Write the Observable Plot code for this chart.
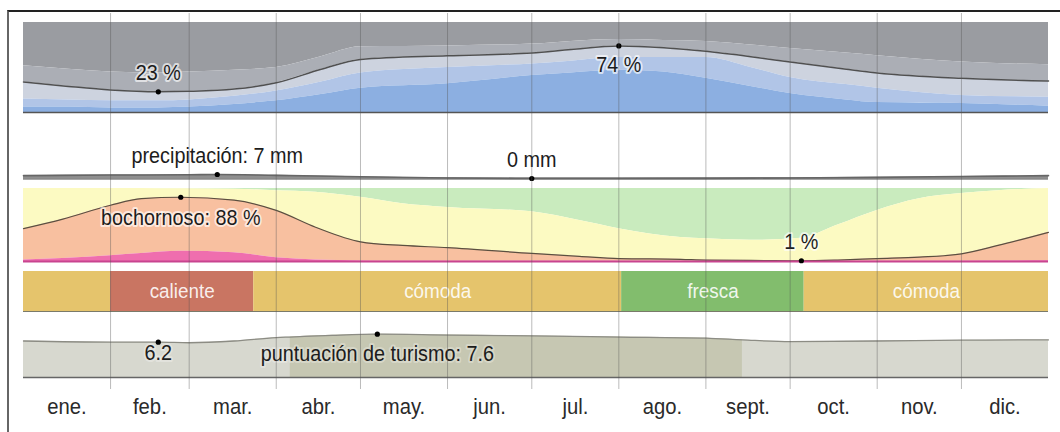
<!DOCTYPE html>
<html><head><meta charset="utf-8">
<script src="https://cdn.jsdelivr.net/npm/d3@7"></script>
<script src="https://cdn.jsdelivr.net/npm/@observablehq/plot@0.6"></script>
<style>
body{margin:0;background:#fff;font-family:"Liberation Sans",Arial,sans-serif;}
#frame{position:absolute;left:7px;top:10px;width:1051px;height:430px;border-top:2px solid #222;border-left:2px solid #666;}
#stack svg{display:block;overflow:visible}
#grid{position:absolute;left:0;top:0;pointer-events:none}
#grid svg{overflow:visible}
</style></head><body>
<div id="frame"><div id="stack"></div><div id="grid"></div></div>
<script>
// ---- axis / categories ----
const monthLabels = ["ene.","feb.","mar.","abr.","may.","jun.","jul.","ago.","sept.","oct.","nov.","dic."];
const monthStarts = [0,31,59,90,120,151,181,212,243,273,304,334,365];

// ---- cloud cover (cumulative % from the bottom) ----
const cloudDays         = [0,16,31,48,59,75,90,106,120,151,181,195,212,228,243,259,273,293,304,334,365];
const cloudClear        = [6,6,5,5,6,9,13,20,27,32,41,44,47,45,38,29,21,14,11,10,7];
const cloudMostlyClear  = [15,14,13,13,14,18,24,34,44,50,54,57,61,61,61,50,39,31,27,19,17];
const cloudPartly       = [34,29,25,23,23.5,26,33,48,59,63,66,70,74,72,68,62,56,48,44,38,35];
const cloudMostlyCloudy = [52,48,45,44,45,47,50,62,73,74,76,79,81,80,79,75,71,66,63,56,53];
const cloudNotes = [{day:48, value:23, text:"23 %"}, {day:212, value:74, text:"74 %"}];

// ---- precipitation (mm) ----
const precipDays  = [0,31,59,69,90,120,151,181,212,243,273,304,334,365];
const precipMm    = [5,6,6.5,7,5.5,3,1,0,0,0.3,1,2,3.5,5];
const precipNotes = [{day:69, value:7, text:"precipitación: 7 mm"}, {day:181, value:0, text:"0 mm"}];

// ---- humidity comfort (cumulative % from the bottom) ----
const humDays      = [0,14,31,42,56,75,90,104,120,135,151,181,198,212,234,243,259,277,290,304,319,334,347,365];
const humOppressive= [2,4,8,11,14,12,5,2,0.8,0.5,0.5,0.5,0.5,0.5,0.5,0.5,0.5,0.5,0.5,0.5,0.5,0.5,0.6,1];
const humMuggy     = [45,58,77,86,88,84,70,47,27,22,19,11,7,4,3,2,1.5,1,2,4,6,10.5,22,40];
const humNotDry    = [100,100,100,100,99.5,99,97,95,88,79,74,68,56,45,33,31,29,32,50,70,86,93,97,100];
const humNotes = [{day:56, value:88, text:"bochornoso: 88 %"}, {day:277, value:1, text:"1 %"}];

// ---- temperature comfort segments ----
const comfortStart = [0,31,82,213,278];
const comfortEnd   = [31,82,213,278,365];
const comfortName  = ["cómoda","caliente","cómoda","fresca","cómoda"];
const comfortCats   = ["cómoda","caliente","fresca"];
const comfortColors = ["#e5c46c","#c97562","#82bd6d"];

// ---- tourism score ----
const tourDays  = [0,31,48,59,75,90,95,110,126,151,181,212,243,256,273,304,334,365];
const tourScore = [6.4,6.2,6.2,6.1,6.4,7.0,7.1,7.4,7.6,7.45,7.3,7.1,6.9,6.6,6.3,6.4,6.55,6.6];
const tourBest  = [95,256];
const tourNotes = [{day:48, value:6.2, text:"6.2"}, {day:126, value:7.6, text:"puntuación de turismo: 7.6"}];

// ---- tables ----
const cloud = cloudDays.map((d,i)=>({day:d, clear:cloudClear[i], mclear:cloudMostlyClear[i], partly:cloudPartly[i], mcloudy:cloudMostlyCloudy[i]}));
const precip = precipDays.map((d,i)=>({day:d, mm:precipMm[i]}));
const hum = humDays.map((d,i)=>({day:d, opp:humOppressive[i], muggy:humMuggy[i], notDry:humNotDry[i]}));
const comfort = comfortStart.map((s,i)=>({start:s, end:comfortEnd[i], name:comfortName[i]}));
const tour = tourDays.map((d,i)=>({day:d, score:tourScore[i]}));
const months = monthLabels.map((m,i)=>({label:m, mid:(monthStarts[i]+monthStarts[i+1])/2}));

const W = 1051, ML = 14, MR = 12;
const FONT = '"Liberation Sans", Arial, sans-serif';
const curve = "monotone-x";
const halo = {stroke:"white", strokeWidth:4, strokeOpacity:0.65, fill:"#1c1c1c", fontSize:21.5, lineAnchor:"middle"};

function band(height, mt, mb, ydomain, marks, extra={}) {
  return Plot.plot(Object.assign({
    width: W, height, marginLeft: ML, marginRight: MR, marginTop: mt, marginBottom: mb,
    x: {domain:[0,365], axis:null},
    y: {domain: ydomain, axis:null},
    style: {background:"transparent", fontFamily: FONT, overflow:"visible"},
    marks
  }, extra));
}

// narrow the glyphs a little, like the tall, condensed lettering of the original
function squeeze(svg, factor) {
  svg.querySelectorAll("text").forEach(t => {
    const L = t.getComputedTextLength();
    if (L > 0) { t.setAttribute("textLength", (L * factor).toFixed(1)); t.setAttribute("lengthAdjust", "spacingAndGlyphs"); }
  });
}

const stack = document.getElementById("stack");
const svgs = [];
function add(svg) { stack.append(svg); svgs.push(svg); }

// cloud cover
add(band(128, 10, 28, [0,100], [
  Plot.areaY(cloud, {x:"day", y1:"mcloudy", y2:100, fill:"#9a9ca1", curve}),
  Plot.areaY(cloud, {x:"day", y1:"partly", y2:"mcloudy", fill:"#abaeb5", curve}),
  Plot.areaY(cloud, {x:"day", y1:"mclear", y2:"partly", fill:"#cdd3df", curve}),
  Plot.areaY(cloud, {x:"day", y1:"clear", y2:"mclear", fill:"#b1c5e7", curve}),
  Plot.areaY(cloud, {x:"day", y1:0, y2:"clear", fill:"#8cafe1", curve}),
  Plot.lineY(cloud, {x:"day", y:"partly", stroke:"#505050", strokeWidth:1.5, curve}),
  Plot.ruleY([0], {stroke:"#555", strokeWidth:1.5}),
  Plot.dot(cloudNotes, {x:"day", y:"value", r:2.6, fill:"#000"}),
  Plot.text(cloudNotes.slice(0,1), {x:"day", y:"value", text:"text", dy:-19, ...halo}),
  Plot.text(cloudNotes.slice(1), {x:"day", y:"value", text:"text", dy:19, ...halo})
]));

// precipitation
add(band(44, 18, 6, [0,35], [
  Plot.ruleY([0], {stroke:"#8a8a8a", strokeWidth:2.5}),
  Plot.areaY(precip, {x:"day", y:"mm", fill:"#8f8f8f", curve}),
  Plot.lineY(precip, {x:"day", y:"mm", stroke:"#666", strokeWidth:1.6, curve}),
  Plot.dot(precipNotes, {x:"day", y:"value", r:2.6, fill:"#000"}),
  Plot.text(precipNotes, {x:"day", y:"value", text:"text", dy:-18, ...halo})
]));

// humidity
add(band(82, 4, 5, [0,100], [
  Plot.areaY(hum, {x:"day", y1:"notDry", y2:100, fill:"#c9ebbe", curve}),
  Plot.areaY(hum, {x:"day", y1:"muggy", y2:"notDry", fill:"#fcfac2", curve}),
  Plot.areaY(hum, {x:"day", y1:"opp", y2:"muggy", fill:"#f8c0a0", curve}),
  Plot.areaY(hum, {x:"day", y1:0, y2:"opp", fill:"#ef6eae", curve}),
  Plot.lineY(hum, {x:"day", y:"muggy", stroke:"#5b5040", strokeWidth:1.2, curve}),
  Plot.ruleY([0], {stroke:"#c8448f", strokeWidth:2}),
  Plot.dot(humNotes, {x:"day", y:"value", r:2.6, fill:"#000"}),
  Plot.text(humNotes.slice(0,1), {x:"day", y:"value", text:"text", dy:21, ...halo}),
  Plot.text(humNotes.slice(1), {x:"day", y:"value", text:"text", dy:-19, ...halo})
]));

// temperature comfort
add(band(52, 5, 7, [0,1], [
  Plot.rect(comfort, {x1:"start", x2:"end", y1:0, y2:1, fill:"name"}),
  Plot.ruleY([0], {stroke:"#7a7a6a", strokeWidth:1}),
  Plot.text(comfort.filter(d=>d.end-d.start>40), {x:d=>(d.start+d.end)/2, y:0.5, text:"name", fill:"white", fillOpacity:0.9, fontSize:20.5, lineAnchor:"middle"})
], {color:{domain:comfortCats, range:comfortColors}}));

// tourism score + month axis
add(Plot.plot({
  width: W, height: 114, marginLeft: ML, marginRight: MR, marginTop: 2, marginBottom: 55,
  x: {domain:[0,365], ticks: months.map(m=>m.mid), tickFormat: d => months.find(m=>m.mid===d).label, tickSize:0, tickPadding:21, label:null},
  y: {domain:[0,10], axis:null},
  style: {background:"transparent", fontFamily: FONT, fontSize:"22px", color:"#2a2a2a", overflow:"visible"},
  marks: [
    Plot.areaY(tour, {x:"day", y:"score", fill:"#d7d8cf", curve}),
    Plot.areaY(tour.filter(d=>d.day>=tourBest[0] && d.day<=tourBest[1]), {x:"day", y:"score", fill:"#c6c7b2", curve}),
    Plot.lineY(tour, {x:"day", y:"score", stroke:"#8c8c84", strokeWidth:1.3, curve}),
    Plot.ruleY([0], {stroke:"#666", strokeWidth:1.5}),
    Plot.dot(tourNotes, {x:"day", y:"value", r:2.6, fill:"#000"}),
    Plot.text(tourNotes.slice(0,1), {x:"day", y:"value", text:"text", dy:11, ...halo, strokeOpacity:0.3}),
    Plot.text(tourNotes.slice(1), {x:"day", y:"value", text:"text", dy:20, ...halo, strokeOpacity:0.3})
  ]
}));

svgs.forEach(s => squeeze(s, 0.92));

// month gridlines overlay
document.getElementById("grid").append(Plot.plot({
  width: W, height: 377, marginLeft: ML, marginRight: MR, marginTop: 1, marginBottom: 0,
  x: {domain:[0,365], axis:null},
  style: {background:"transparent", overflow:"visible"},
  marks: [Plot.ruleX(monthStarts.slice(1,12), {stroke:"#555", strokeOpacity:0.4, strokeWidth:1})]
}));
</script>
</body></html>
